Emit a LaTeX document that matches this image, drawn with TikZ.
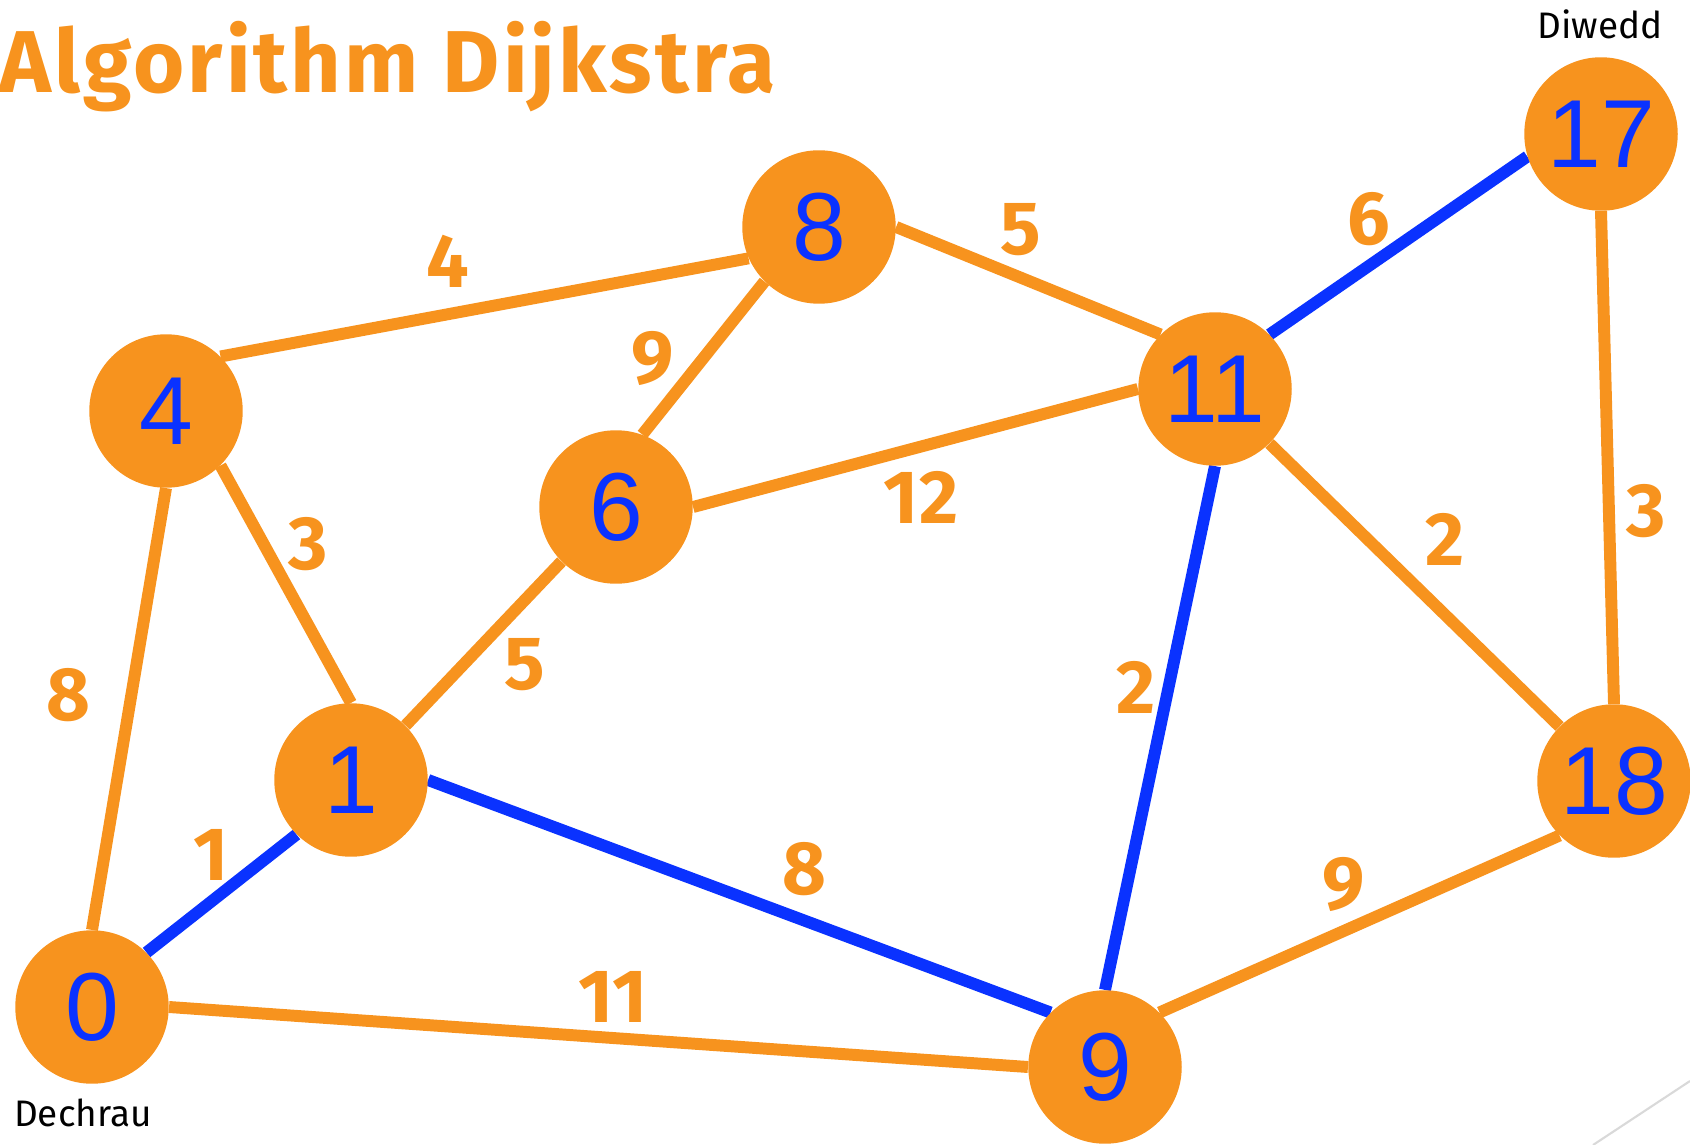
\documentclass[tikz,border=0pt]{standalone}
\usepackage{fontspec}
\setmainfont{Fira Sans}
\newfontfamily\vertexfont{Liberation Sans}
\usepackage{tikz}
\usetikzlibrary{positioning, backgrounds}
\definecolor{vertexorange}{HTML}{F7931E}
\definecolor{pathblue}{HTML}{0A32FF}
\definecolor{cornergray}{HTML}{D9D9D9}

\tikzset{
  vertex/.style={circle, fill=vertexorange, minimum size=3.07cm, inner sep=0pt,
    text=pathblue, font=\vertexfont\fontsize{55}{60}\selectfont},
  edge/.style={line width=6.8pt, vertexorange},
  shortest/.style={line width=6.8pt, pathblue},
  weight/.style={text=vertexorange, font=\fontsize{43}{48}\selectfont\bfseries},
  endlabel/.style={text=black, font=\fontsize{21}{24}\selectfont},
}

\begin{document}
\begin{tikzpicture}[x=0.02cm, y=-0.02cm]
  \useasboundingbox (0,0) rectangle (1690,1145);
  \clip (0,0) rectangle (1690,1145);

  % Title
  \node[anchor=base east, inner sep=0pt, text=vertexorange,
    font=\fontsize{50}{56}\selectfont\bfseries\addfontfeature{LetterSpace=3.5}]
    (title) at (776,93) {Algorithm Dijkstra};

  % Vertices
  \node[vertex] (v0) at (92,1007) {0};
  \node[vertex] (v1) at (351,780) {1};
  \node[vertex] (v4) at (166,411) {4};
  \node[vertex] (v6) at (616,507) {6};
  \node[vertex] (v8) at (819,227) {8};
  \node[vertex] (v11) at (1215,389) {11};
  \node[vertex] (v17) at (1601,134) {17};
  \node[vertex] (v18) at (1614,781) {18};
  \node[vertex] (v9) at (1105,1067) {9};

  % Start and end
  \node[endlabel] (start) at (83,1113) {Dechrau};
  \node[endlabel] (finish) at (1600,24) {Diwedd};

  \begin{scope}[on background layer]
    % Edges
    \draw[edge] (v0.90) -- (v4.270);
    \draw[edge] (v0.0) -- (v9.180);
    \draw[edge] (v4.45) -- (v8.204);
    \draw[edge] (v4.315) -- (v1.90);
    \draw[edge] (v1.45) -- (v6.225);
    \draw[edge] (v6.70) -- (v8.225);
    \draw[edge] (v6.0) -- (v11.180);
    \draw[edge] (v8.0) -- (v11.135);
    \draw[edge] (v11.315) -- (v18.135);
    \draw[edge] (v17.270) -- (v18.90);
    \draw[edge] (v9.45) -- (v18.225);

    % Shortest path
    \draw[shortest] (v0.45) -- (v1.225);
    \draw[shortest] (v1.0) -- (v9.135);
    \draw[shortest] (v9.90) -- (v11.270);
    \draw[shortest] (v11.45) -- (v17.197);
  \end{scope}

  % Weights
  \node[weight] (w04) at (68,695) {8};
  \node[weight] (w01) at (211,855) {1};
  \node[weight] (w41) at (308,544) {3};
  \node[weight] (w48) at (448,261) {4};
  \node[weight] (w68) at (653,358) {9};
  \node[weight] (w16) at (525,665) {5};
  \node[weight] (w19) at (804,869) {8};
  \node[weight] (w09) at (613,997) {11};
  \node[weight] (w611) at (921,497) {12};
  \node[weight] (w811) at (1021,230) {5};
  \node[weight] (w1117) at (1369,219) {6};
  \node[weight] (w119) at (1136,687) {2};
  \node[weight] (w1118) at (1445,539) {2};
  \node[weight] (w1718) at (1646,511) {3};
  \node[weight] (w918) at (1344,884) {9};

  % Corner line
  \draw[cornergray, line width=1.2pt] (1593,1145) -- (1690,1081);
\end{tikzpicture}
\end{document}
